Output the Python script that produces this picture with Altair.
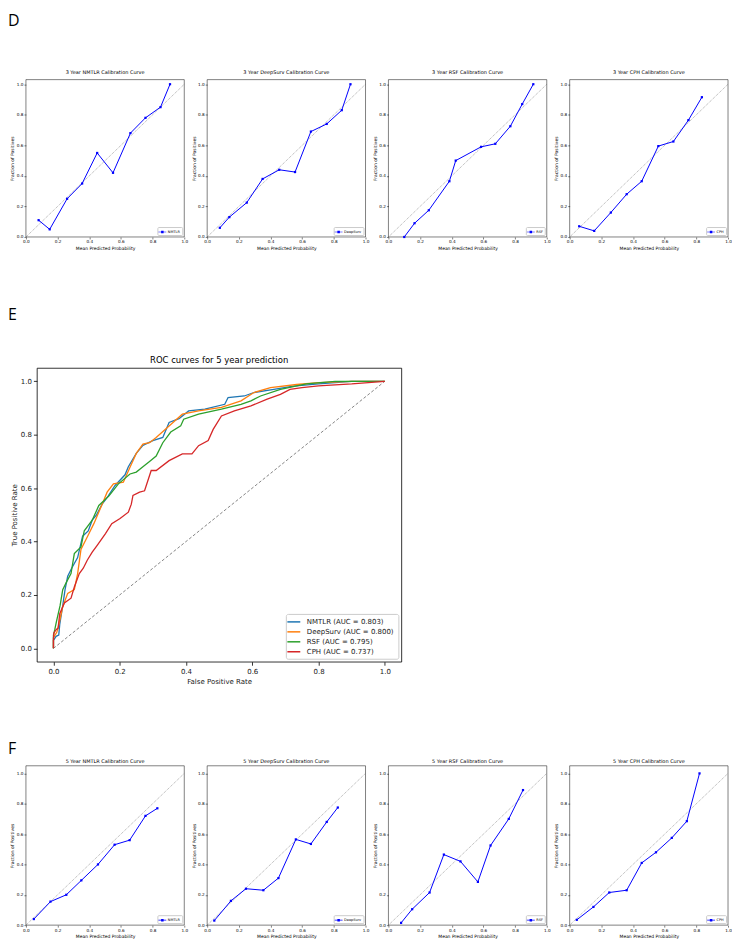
import altair as alt
import pandas as pd

# ---------------- data ----------------
models = ["NMTLR", "DeepSurv", "RSF", "CPH"]
auc_values = ["0.803", "0.800", "0.795", "0.737"]
roc_colors = ["#1f77b4", "#ff7f0e", "#2ca02c", "#d62728"]
tick_vals = [0.0, 0.2, 0.4, 0.6, 0.8, 1.0]
panel_letters = ["D", "E", "F"]

# 3-year calibration: mean predicted probability / fraction of positives
cal3_nmtlr_x = [0.08, 0.15, 0.26, 0.355, 0.45, 0.55, 0.66, 0.755, 0.85, 0.91]
cal3_nmtlr_y = [0.11, 0.05, 0.25, 0.35, 0.55, 0.42, 0.68, 0.78, 0.85, 1.00]
cal3_deepsurv_x = [0.08, 0.14, 0.25, 0.35, 0.455, 0.555, 0.655, 0.755, 0.85, 0.905]
cal3_deepsurv_y = [0.06, 0.13, 0.225, 0.38, 0.44, 0.425, 0.69, 0.74, 0.83, 1.00]
cal3_rsf_x = [0.10, 0.165, 0.255, 0.385, 0.425, 0.585, 0.675, 0.77, 0.845, 0.915]
cal3_rsf_y = [0.0, 0.09, 0.175, 0.365, 0.50, 0.59, 0.61, 0.725, 0.87, 1.00]
cal3_cph_x = [0.06, 0.155, 0.26, 0.36, 0.455, 0.56, 0.655, 0.75, 0.835]
cal3_cph_y = [0.07, 0.04, 0.16, 0.28, 0.365, 0.595, 0.625, 0.765, 0.915]

# 5-year calibration
cal5_nmtlr_x = [0.05, 0.155, 0.255, 0.35, 0.455, 0.56, 0.655, 0.755, 0.83]
cal5_nmtlr_y = [0.04, 0.155, 0.20, 0.295, 0.40, 0.53, 0.56, 0.72, 0.77]
cal5_deepsurv_x = [0.045, 0.15, 0.245, 0.355, 0.45, 0.56, 0.655, 0.755, 0.825]
cal5_deepsurv_y = [0.03, 0.16, 0.24, 0.23, 0.31, 0.565, 0.535, 0.68, 0.775]
cal5_rsf_x = [0.08, 0.15, 0.26, 0.35, 0.455, 0.565, 0.645, 0.76, 0.85]
cal5_rsf_y = [0.015, 0.105, 0.215, 0.465, 0.42, 0.285, 0.525, 0.70, 0.89]
cal5_cph_x = [0.045, 0.15, 0.25, 0.36, 0.455, 0.545, 0.645, 0.74, 0.82]
cal5_cph_y = [0.035, 0.12, 0.215, 0.23, 0.41, 0.48, 0.575, 0.685, 1.00]

# ROC curves (5-year)
roc_nmtlr_fpr = [0, 0.0, 0.008, 0.016, 0.019, 0.028, 0.035, 0.043, 0.055, 0.073, 0.088, 0.105, 0.117,
                 0.13, 0.147, 0.165, 0.186, 0.216, 0.226, 0.25, 0.27, 0.30, 0.33, 0.349, 0.379, 0.408,
                 0.457, 0.517, 0.527, 0.576, 0.605, 0.665, 0.724, 0.80, 0.90, 1.0]
roc_nmtlr_tpr = [0, 0.03, 0.045, 0.05, 0.09, 0.16, 0.22, 0.27, 0.30, 0.34, 0.42, 0.44, 0.48,
                 0.50, 0.54, 0.57, 0.61, 0.65, 0.68, 0.73, 0.76, 0.778, 0.79, 0.846, 0.86, 0.889,
                 0.896, 0.914, 0.939, 0.945, 0.958, 0.97, 0.982, 0.99, 1.0, 1.0]
roc_deepsurv_fpr = [0, 0.0, 0.01, 0.014, 0.02, 0.028, 0.043, 0.063, 0.073, 0.083, 0.102, 0.122, 0.147,
                    0.162, 0.181, 0.211, 0.231, 0.25, 0.27, 0.29, 0.31, 0.349, 0.389, 0.438, 0.507,
                    0.566, 0.605, 0.655, 0.734, 0.80, 0.90, 1.0]
roc_deepsurv_tpr = [0, 0.04, 0.06, 0.076, 0.11, 0.156, 0.206, 0.22, 0.28, 0.37, 0.417, 0.467, 0.54,
                    0.585, 0.616, 0.622, 0.678, 0.73, 0.765, 0.77, 0.79, 0.833, 0.877, 0.889, 0.902,
                    0.927, 0.958, 0.976, 0.988, 0.995, 1.0, 1.0]
roc_rsf_fpr = [0, 0.0, 0.004, 0.009, 0.02, 0.028, 0.04, 0.053, 0.063, 0.083, 0.093, 0.117, 0.137,
               0.167, 0.196, 0.231, 0.25, 0.27, 0.29, 0.31, 0.33, 0.354, 0.384, 0.393, 0.438, 0.507,
               0.566, 0.596, 0.625, 0.685, 0.763, 0.85, 1.0]
roc_rsf_tpr = [0, 0.05, 0.07, 0.10, 0.16, 0.22, 0.25, 0.28, 0.355, 0.38, 0.44, 0.48, 0.535,
               0.57, 0.616, 0.653, 0.66, 0.68, 0.70, 0.72, 0.77, 0.81, 0.833, 0.858, 0.877, 0.896,
               0.914, 0.927, 0.945, 0.97, 0.99, 1.0, 1.0]
roc_cph_fpr = [0, 0.0, 0.001, 0.008, 0.014, 0.019, 0.033, 0.053, 0.063, 0.078, 0.09, 0.102, 0.117,
               0.132, 0.157, 0.176, 0.201, 0.226, 0.235, 0.24, 0.26, 0.275, 0.295, 0.31, 0.349,
               0.389, 0.418, 0.438, 0.467, 0.482, 0.507, 0.546, 0.596, 0.645, 0.685, 0.714, 0.75,
               0.80, 0.90, 1.0]
roc_cph_tpr = [0, 0.03, 0.057, 0.07, 0.076, 0.13, 0.17, 0.188, 0.23, 0.28, 0.30, 0.33, 0.36,
               0.386, 0.43, 0.467, 0.486, 0.51, 0.54, 0.573, 0.585, 0.59, 0.666, 0.666, 0.703,
               0.728, 0.728, 0.759, 0.778, 0.82, 0.87, 0.889, 0.908, 0.933, 0.951, 0.97, 0.976,
               0.983, 0.99, 1.0]

# ---------------- styling helpers ----------------
FONT = "DejaVu Sans"
LABEL_FONT = "Open Sans"
CAL_W = 159
LEG_PATH = "M-1.2,-0.1H1.2V0.1H-1.2Z M-0.38,-0.38H0.38V0.38H-0.38Z"


def cal_axis(title, values):
    return alt.Axis(title=title, values=values, format=".1f", labelFlush=False, labelOverlap=False,
                    grid=False, domain=False, tickSize=2, tickWidth=0.5, tickColor="#000",
                    labelFontSize=4.2, labelPadding=1, titleFontSize=4.5, titlePadding=1.5,
                    labelFont=FONT, titleFont=FONT, titleFontWeight="normal",
                    labelColor="#000", titleColor="#000")


def cal_panel(xs, ys, model, title, h, ytop, toff):
    df = pd.DataFrame({"x": xs, "y": ys, "model": [model] * len(xs), "i": list(range(len(xs)))})
    diag = pd.DataFrame({"x": [0.0, 1.0], "y": [0.0, 1.0]})
    xsc = alt.Scale(domain=[0, 1], nice=False, zero=False)
    ysc = alt.Scale(domain=[0, ytop], nice=False, zero=False)
    xax = cal_axis("Mean Predicted Probability", tick_vals)
    yax = cal_axis("Fraction of Positives", tick_vals)
    d = alt.Chart(diag).mark_line(color="#555", strokeWidth=0.5, strokeDash=[1, 1]).encode(
        x=alt.X("x:Q", scale=xsc, axis=xax),
        y=alt.Y("y:Q", scale=ysc, axis=yax),
    )
    ln = alt.Chart(df).mark_line(color="#0000ff", strokeWidth=1).encode(
        x=alt.X("x:Q", scale=xsc, axis=xax), y=alt.Y("y:Q", scale=ysc, axis=yax), order="i:Q")
    pts = alt.Chart(df).mark_square(size=5, opacity=1, filled=True).encode(
        x=alt.X("x:Q", scale=xsc, axis=xax), y=alt.Y("y:Q", scale=ysc, axis=yax),
        color=alt.Color("model:N", scale=alt.Scale(range=["#0000ff"]),
                        legend=alt.Legend(title=None, orient="bottom-right", offset=2, padding=1.5,
                                          labelFontSize=3.5, labelFont=FONT, labelColor="#000",
                                          symbolType=LEG_PATH, symbolSize=44,
                                          symbolFillColor="#0000ff", symbolStrokeWidth=0,
                                          strokeColor="#ccc", fillColor="#fff", cornerRadius=1,
                                          labelOffset=2)),
    )
    return alt.layer(d, ln, pts).properties(
        width=CAL_W, height=h,
        title=alt.TitleParams(title, fontSize=5, font=FONT, fontWeight="normal", offset=toff,
                              color="#000"),
        view=alt.ViewBackground(stroke="#000", strokeWidth=0.5),
    )


def letter_chart(letter, top=0):
    return alt.Chart(pd.DataFrame({"t": [letter]})).mark_text(
        font=LABEL_FONT, fontSize=16, align="left", baseline="top", color="#000").encode(
        text="t:N", x=alt.value(0), y=alt.value(top)
    ).properties(width=12, height=1, view=alt.ViewBackground(stroke=None))


def spacer():
    return alt.Chart(pd.DataFrame({"t": [""]})).mark_text().encode(
        text="t:N").properties(width=1, height=1, view=alt.ViewBackground(stroke=None))


def stack(*charts, gap):
    return alt.concat(*charts, columns=1, align="none", spacing=gap).resolve_scale(color="independent")


def lead(chart):
    # a zero-extent element first, so the row's left edge is its own axis, not the plot origin
    return alt.hconcat(spacer(), chart, spacing=0).resolve_scale(color="independent")


# ---------------- D row ----------------
cal3_x = [cal3_nmtlr_x, cal3_deepsurv_x, cal3_rsf_x, cal3_cph_x]
cal3_y = [cal3_nmtlr_y, cal3_deepsurv_y, cal3_rsf_y, cal3_cph_y]
rowD = alt.hconcat(
    *[cal_panel(cal3_x[k], cal3_y[k], models[k], f"3 Year {models[k]} Calibration Curve", 158, 1.03, 5)
      for k in range(4)],
    spacing=2,
).resolve_scale(color="independent")

# ---------------- E row (ROC) ----------------
roc_f = [roc_nmtlr_fpr, roc_deepsurv_fpr, roc_rsf_fpr, roc_cph_fpr]
roc_t = [roc_nmtlr_tpr, roc_deepsurv_tpr, roc_rsf_tpr, roc_cph_tpr]
roc_labels = [f"{m} (AUC = {a})" for m, a in zip(models, auc_values)]
rows = []
for k in range(4):
    for i, (a, b) in enumerate(zip(roc_f[k], roc_t[k])):
        rows.append({"fpr": a, "tpr": b, "curve": roc_labels[k], "i": i})
roc_df = pd.DataFrame(rows)


def roc_axis(title):
    return alt.Axis(title=title, values=tick_vals, format=".1f", labelFlush=False, labelOverlap=False,
                    grid=False, domain=False, tickSize=3.5, tickWidth=0.8, tickColor="#000",
                    labelFontSize=7, labelPadding=2, titleFontSize=7, titlePadding=3,
                    labelFont=FONT, titleFont=FONT, titleFontWeight="normal",
                    labelColor="#222", titleColor="#222")


rsc = alt.Scale(domain=[-0.05, 1.05], nice=False, zero=False)
roc_diag = alt.Chart(pd.DataFrame({"fpr": [0.0, 1.0], "tpr": [0.0, 1.0]})).mark_line(
    color="#666", strokeWidth=0.8, strokeDash=[3, 2]).encode(
    x=alt.X("fpr:Q", scale=rsc, axis=roc_axis("False Positive Rate")),
    y=alt.Y("tpr:Q", scale=rsc, axis=roc_axis("True Positive Rate")),
)
roc_lines = alt.Chart(roc_df).mark_line(strokeWidth=1.3).encode(
    x="fpr:Q", y="tpr:Q", order="i:Q",
    color=alt.Color("curve:N", sort=roc_labels,
                    scale=alt.Scale(domain=roc_labels, range=roc_colors),
                    legend=alt.Legend(title=None, orient="bottom-right", offset=3, padding=4,
                                      labelFontSize=7, labelFont=FONT, labelColor="#222",
                                      symbolType="M-2,0H2", symbolSize=42, symbolStrokeWidth=1.5,
                                      strokeColor="#ccc", fillColor="#fff", cornerRadius=2,
                                      rowPadding=3, labelOffset=9)),
)
roc = alt.layer(roc_diag, roc_lines).properties(
    width=366, height=295,
    title=alt.TitleParams("ROC curves for 5 year prediction", fontSize=8.5, font=FONT,
                          fontWeight="normal", offset=3, color="#000"),
    view=alt.ViewBackground(stroke="#000", strokeWidth=0.8),
)

# ---------------- F row ----------------
cal5_x = [cal5_nmtlr_x, cal5_deepsurv_x, cal5_rsf_x, cal5_cph_x]
cal5_y = [cal5_nmtlr_y, cal5_deepsurv_y, cal5_rsf_y, cal5_cph_y]
rowF = alt.hconcat(
    *[cal_panel(cal5_x[k], cal5_y[k], models[k], f"5 Year {models[k]} Calibration Curve", 160, 1.05, 1.5)
      for k in range(4)],
    spacing=2,
).resolve_scale(color="independent")

groupD = stack(letter_chart(panel_letters[0], 3), lead(rowD), gap=40)
groupE = stack(letter_chart(panel_letters[1]), lead(roc), gap=33.5)
groupF = stack(letter_chart(panel_letters[2]), lead(rowF), gap=2)
groupEF = stack(groupE, groupF, gap=56)

chart = stack(groupD, groupEF, gap=56).properties(padding=0, background="white")

chart.save("out.html", embed_options={"renderer": "svg", "actions": False})
